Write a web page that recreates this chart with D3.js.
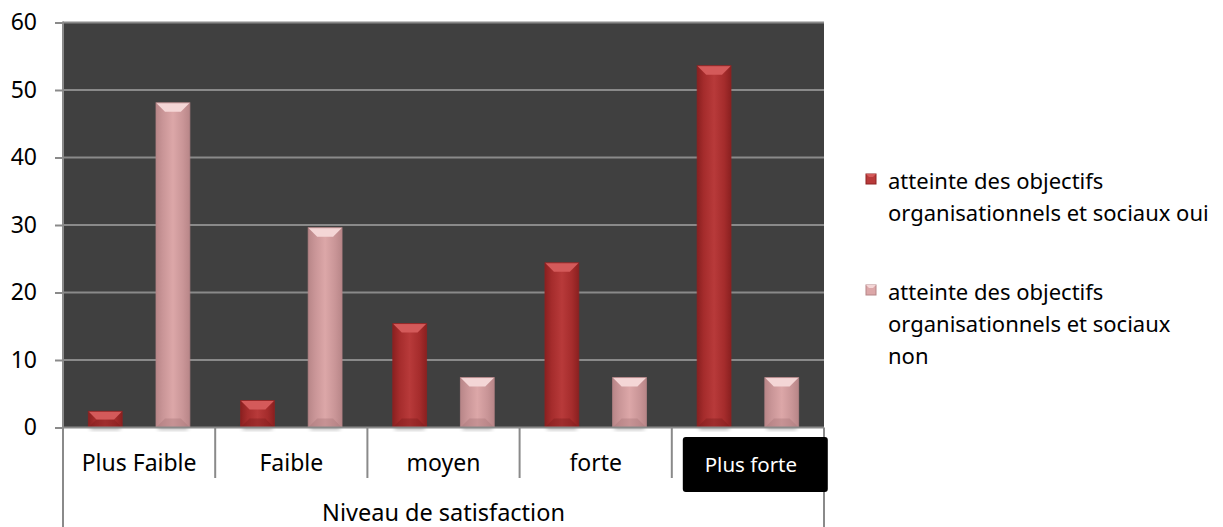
<!DOCTYPE html>
<html><head><meta charset="utf-8">
<script src="https://cdn.jsdelivr.net/npm/d3@7"></script>
<style>body{margin:0;background:#fff}svg{display:block}</style>
</head><body>
<svg id="chart" width="1223" height="527"></svg>
<script>
const categories = ["Plus Faible", "Faible", "moyen", "forte", "Plus forte"];
const seriesNames = ["atteinte des objectifs organisationnels et sociaux oui", "atteinte des objectifs organisationnels et sociaux non"];
const ouiValues = [2.4, 4.0, 15.4, 24.4, 53.6];
const nonValues = [48.1, 29.6, 7.4, 7.4, 7.4];
const yTicks = [0, 10, 20, 30, 40, 50, 60];
const axisTitle = "Niveau de satisfaction";
const legendLines = [["atteinte des objectifs", "organisationnels et sociaux oui"], ["atteinte des objectifs", "organisationnels et sociaux", "non"]];

const FONT = "'Noto Sans', sans-serif";
const svg = d3.select("#chart");
const L = 63, R = 824, T = 22.5, B = 427.5;
const x0 = d3.scaleBand().domain(categories).range([L, R]).padding(0);
const x1 = d3.scaleBand().domain(["oui", "non"]).range([0, x0.bandwidth()]).paddingInner(0.5).paddingOuter(0.375);
const y = d3.scaleLinear().domain([0, 60]).range([B, T]);

const defs = svg.append("defs");
const palettes = {
  oui: {main: ["#8a2020", "#b83a3a", "#a52c2c"], top: "#d45a5a", bottom: "#7a1c1c", side: "#8e2222"},
  non: {main: ["#b88688", "#dca7a8", "#c99597"], top: "#f4d6d6", bottom: "#a87577", side: "#b58587"}
};
Object.entries(palettes).forEach(([k, p]) => {
  const g = defs.append("linearGradient").attr("id", "g-" + k).attr("x1", 0).attr("x2", 1).attr("y1", 0).attr("y2", 0);
  g.append("stop").attr("offset", "0%").attr("stop-color", p.main[0]);
  g.append("stop").attr("offset", "20%").attr("stop-color", p.main[2]);
  g.append("stop").attr("offset", "50%").attr("stop-color", p.main[1]);
  g.append("stop").attr("offset", "80%").attr("stop-color", p.main[2]);
  g.append("stop").attr("offset", "100%").attr("stop-color", p.main[0]);
});
const blur = defs.append("filter").attr("id", "shadow").attr("x", "-50%").attr("y", "-50%").attr("width", "200%").attr("height", "200%");
blur.append("feGaussianBlur").attr("stdDeviation", 2);

// plot background
svg.append("rect").attr("x", L).attr("y", T).attr("width", R - L).attr("height", B - T).attr("fill", "#404040");

// gridlines
svg.append("g").selectAll("line").data(yTicks.filter(d => d > 0)).join("line")
  .attr("x1", L).attr("x2", R).attr("y1", d => y(d)).attr("y2", d => y(d))
  .attr("stroke", "#8a8a8a").attr("stroke-width", 2);

// y axis
const yAxis = svg.append("g").attr("transform", `translate(${L},0)`)
  .call(d3.axisLeft(y).tickValues(yTicks).tickSize(8).tickPadding(18).tickFormat(d3.format("d")));
yAxis.select(".domain").remove();
yAxis.selectAll(".tick line").attr("stroke", "#8a8a8a").attr("stroke-width", 2);
yAxis.selectAll(".tick text").attr("font-family", FONT).attr("font-size", 23).attr("fill", "#000");

// bars
function drawBar(g, bx, v, key) {
  const p = palettes[key];
  const w = x1.bandwidth();
  const top = y(v), h = B - top;
  const b = Math.min(9, h / 2);
  g.append("rect").attr("x", bx + 2).attr("y", B - 3).attr("width", w - 4).attr("height", 5).attr("fill", "#000").attr("opacity", 0.3).attr("filter", "url(#shadow)");
  g.append("rect").attr("x", bx).attr("y", top).attr("width", w).attr("height", h).attr("fill", `url(#g-${key})`);
  g.append("polygon").attr("points", [[bx, B], [bx + w, B], [bx + w - b, B - b], [bx + b, B - b]].join(" ")).attr("fill", p.bottom).attr("opacity", 0.4);
  g.append("polygon").attr("points", [[bx, top], [bx + w, top], [bx + w - b, top + b], [bx + b, top + b]].join(" ")).attr("fill", p.top);
  g.append("rect").attr("x", bx).attr("y", top).attr("width", w).attr("height", h).attr("fill", "none").attr("stroke", p.side).attr("stroke-width", 1).attr("opacity", 0.8);
}
const barsG = svg.append("g");
categories.forEach((c, i) => {
  drawBar(barsG, x0(c) + x1("oui"), ouiValues[i], "oui");
  drawBar(barsG, x0(c) + x1("non"), nonValues[i], "non");
});

// axis lines
const axCol = "#8a8a8a";
svg.append("line").attr("x1", L).attr("x2", R).attr("y1", B).attr("y2", B).attr("stroke", axCol).attr("stroke-width", 2);
svg.append("line").attr("x1", L).attr("x2", L).attr("y1", T - 1).attr("y2", 527).attr("stroke", axCol).attr("stroke-width", 2);
svg.append("line").attr("x1", R).attr("x2", R).attr("y1", B).attr("y2", 527).attr("stroke", axCol).attr("stroke-width", 2);
svg.append("g").selectAll("line").data(categories.slice(1)).join("line")
  .attr("x1", d => x0(d)).attr("x2", d => x0(d)).attr("y1", B).attr("y2", 478)
  .attr("stroke", axCol).attr("stroke-width", 2);

// category labels
const last = categories[categories.length - 1];
svg.append("rect").attr("x", x0(last) + 11).attr("y", 437).attr("width", 145).attr("height", 55).attr("rx", 3).attr("fill", "#000");
svg.append("g").selectAll("text").data(categories).join("text")
  .attr("x", d => x0(d) + x0.bandwidth() / 2 + (d === last ? 3 : 0))
  .attr("y", d => d === last ? 472 : 471)
  .attr("text-anchor", "middle").attr("font-family", FONT)
  .attr("font-size", d => d === last ? 20.5 : 23)
  .attr("fill", d => d === last ? "#fff" : "#000")
  .text(d => d);

svg.append("text").attr("x", (L + R) / 2).attr("y", 521).attr("text-anchor", "middle")
  .attr("font-family", FONT).attr("font-size", 23.5).attr("fill", "#000").text(axisTitle);

// legend
const legendTops = [189, 300];
const keys = ["oui", "non"];
keys.forEach((k, i) => {
  const g = svg.append("g");
  const p = palettes[k];
  const mx = 866, my = legendTops[i] - 15, ms = 10;
  g.append("rect").attr("x", mx).attr("y", my).attr("width", ms).attr("height", ms).attr("fill", p.main[1]).attr("stroke", p.side);
  g.append("polygon").attr("points", [[mx, my], [mx + ms, my], [mx + ms - 3, my + 3], [mx + 3, my + 3]].join(" ")).attr("fill", p.top);
  g.append("title").text(seriesNames[i]);
  legendLines[i].forEach((t, j) => {
    g.append("text").attr("x", 888).attr("y", legendTops[i] + j * 32)
      .attr("font-family", FONT).attr("font-size", 22).attr("fill", "#000").text(t);
  });
});
</script>
</body></html>
